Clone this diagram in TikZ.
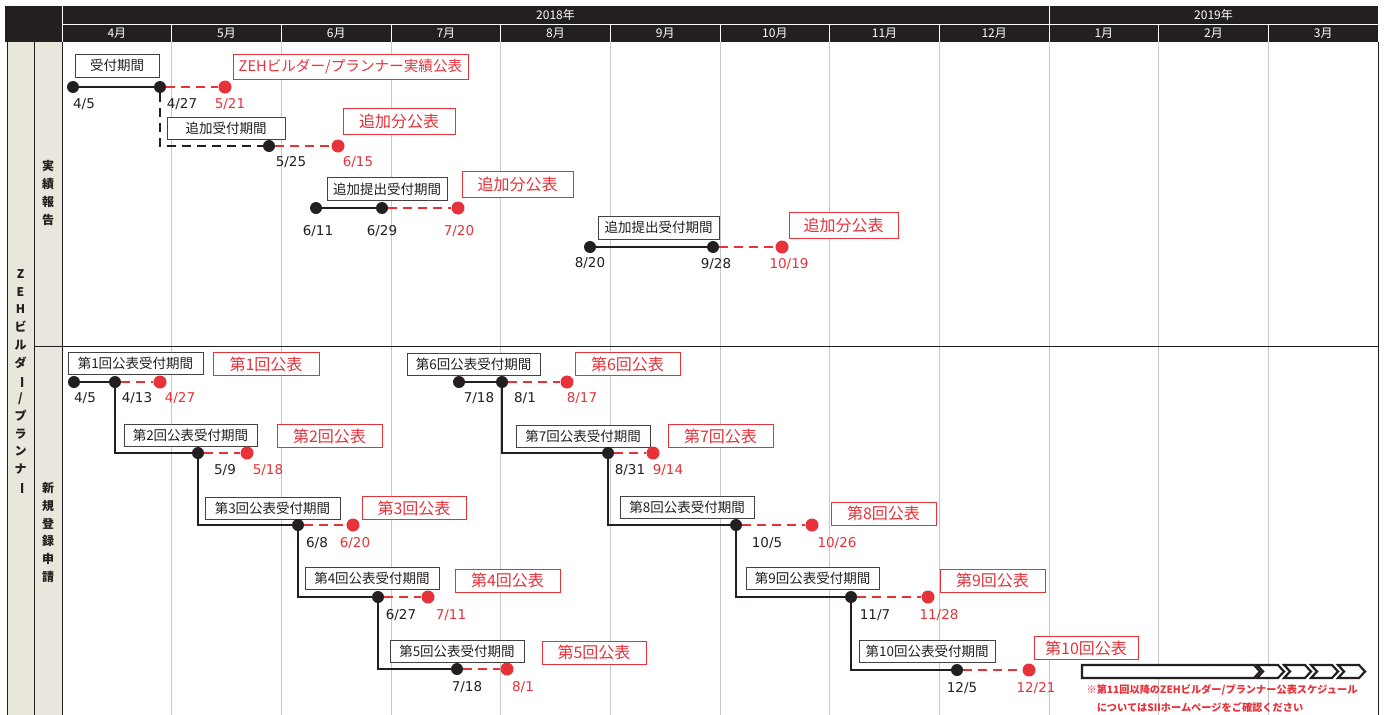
\documentclass[tikz,border=0pt]{standalone}
\usepackage{fontspec}
\usepackage{graphicx}
\newfontfamily\jp{Noto Sans CJK JP}
\newfontfamily\nm{DejaVu Sans}
\definecolor{ink}{HTML}{231F20}
\definecolor{rd}{HTML}{E8323A}
\definecolor{cream}{HTML}{E9E6DB}
\definecolor{gridc}{HTML}{C8C8C8}
\tikzset{
 pbox/.style={draw=ink!85, line width=1pt, fill=white, inner sep=0pt, minimum height=22pt, font=\jp\fontsize{13.5}{15}\selectfont, text=ink},
 rbox/.style={draw=rd, line width=1pt, fill=white, inner sep=0pt, minimum height=23pt, font=\jp\fontsize{16}{18}\selectfont, text=rd},
 bdot/.style={circle, fill=ink, inner sep=0pt, minimum size=12pt},
 rdot/.style={circle, fill=rd, inner sep=0pt, minimum size=13pt},
 bl/.style={font=\nm\fontsize{13.5}{15}\selectfont, text=ink, inner sep=0pt},
 rl/.style={bl, text=rd},
 sline/.style={draw=ink, line width=2.7pt},
 dline/.style={sline, dash pattern=on 9pt off 6pt},
 rline/.style={draw=rd, line width=2.7pt, dash pattern=on 9pt off 6pt},
 hd/.style={font=\jp\fontsize{12}{13}\selectfont, text=white, inner sep=0pt},
 vt/.style={font=\jp\bfseries\fontsize{12}{17.75}\selectfont, align=center, inner sep=0pt, text=ink},
 note/.style={font=\jp\bfseries\fontsize{10.2}{11}\selectfont, text=rd, inner sep=0pt},
 chev/.style={draw=ink, line width=2.2pt, fill=white, line join=miter},
}
\begin{document}
\begin{tikzpicture}[x=1pt,y=-1pt]
\useasboundingbox[fill=white] (0,0) rectangle (1385,715);
% header
\fill[ink] (5,6) rectangle (1378,42);
\draw[white, line width=1pt] (62,6) -- (62,42);
\draw[white, line width=1pt] (62,24) -- (1378,24);
\draw[white, line width=1pt] (1049,6) -- (1049,24);
\foreach \i in {1,...,11} \draw[white, line width=1pt] ({62+109.67*\i},24) -- ({62+109.67*\i},42);
\node[hd] (y2018) at (555.5,15) {2018年};
\node[hd] (y2019) at (1213.5,15) {2019年};
\foreach \m [count=\i from 0] in {4,5,6,7,8,9,10,11,12,1,2,3}
  \node[hd] (mon\i) at ({62+109.67*(\i+0.5)},33) {\m{}月};
% left columns
\fill[cream] (7,42) rectangle (62,715);
\foreach \i in {1,...,11} \draw[gridc, line width=1pt] ({62+109.67*\i},42) -- ({62+109.67*\i},715);
\draw[ink, line width=1pt] (7,42) -- (7,715);
\draw[ink, line width=1pt] (34,42) -- (34,715);
\draw[ink, line width=1pt] (62,42) -- (62,715);
\draw[ink, line width=1pt] (1378,42) -- (1378,715);
\draw[ink, line width=1pt] (34,346) -- (1378,346);
\node[vt] (vzeh) at (20.5,382) {Z\\E\\H\\ビ\\ル\\ダ\\\rotatebox[origin=c]{-90}{ー}\\/\\プ\\ラ\\ン\\ナ\\\rotatebox[origin=c]{-90}{ー}};
\node[vt] (vjis) at (48,193) {実\\績\\報\\告};
\node[vt] (vshin) at (48,532.5) {新\\規\\登\\録\\申\\請};
% ---------- top section ----------
\node[pbox, minimum width=84pt, minimum height=23pt] (ba1) at (117,65.5) {受付期間};
\node[rbox, minimum width=235pt, minimum height=25pt, font=\jp\fontsize{14.6}{18}\selectfont] (ra1) at (350.5,66.5) {ZEHビルダー/プランナー実績公表};
\node[pbox, minimum width=118pt] (ba2) at (226,128) {追加受付期間};
\node[rbox, minimum width=112pt, minimum height=26pt] (ra2) at (399,121) {追加分公表};
\node[pbox, minimum width=120pt, minimum height=23pt] (ba3) at (387,189) {追加提出受付期間};
\node[rbox, minimum width=111pt, minimum height=26pt] (ra3) at (517.5,184) {追加分公表};
\node[pbox, minimum width=121pt, minimum height=23pt] (ba4) at (658.5,227.5) {追加提出受付期間};
\node[rbox, minimum width=109pt, minimum height=26pt] (ra4) at (843.5,225) {追加分公表};
\node[bdot] (a1) at (73,87) {};
\node[bdot] (a2) at (160,87) {};
\node[rdot] (a3) at (225,87) {};
\node[bdot] (a4) at (269,146) {};
\node[rdot] (a5) at (338,146) {};
\node[bdot] (a6) at (316,208) {};
\node[bdot] (a7) at (382,208) {};
\node[rdot] (a8) at (458,208) {};
\node[bdot] (a9) at (590,247) {};
\node[bdot] (a10) at (713,247) {};
\node[rdot] (a11) at (782,247) {};
\draw[sline] (a1) -- (a2);
\draw[rline] (a2) -- (a3);
\draw[dline] (a2) |- (a4);
\draw[rline] (a4) -- (a5);
\draw[sline] (a6) -- (a7);
\draw[rline] (a7) -- (a8);
\draw[sline] (a9) -- (a10);
\draw[rline] (a10) -- (a11);
\node[bl] (la1) at (84,104) {4/5};
\node[bl] (la2) at (182,104) {4/27};
\node[rl] (la3) at (230,104) {5/21};
\node[bl] (la4) at (291,162) {5/25};
\node[rl] (la5) at (358,162) {6/15};
\node[bl] (la6) at (318,231) {6/11};
\node[bl] (la7) at (382,231) {6/29};
\node[rl] (la8) at (459,231) {7/20};
\node[bl] (la9) at (590,263) {8/20};
\node[bl] (la10) at (716,264) {9/28};
\node[rl] (la11) at (789,264) {10/19};
% ---------- bottom section ----------
\node[pbox, minimum width=135pt] (b1) at (135.5,363.5) {第1回公表受付期間};
\node[rbox, minimum width=106pt] (r1) at (266,364) {第1回公表};
\node[pbox, minimum width=133pt] (b2) at (190.5,435.5) {第2回公表受付期間};
\node[rbox, minimum width=105pt] (r2) at (329.5,436) {第2回公表};
\node[pbox, minimum width=135pt] (b3) at (272.5,508) {第3回公表受付期間};
\node[rbox, minimum width=104pt] (r3) at (414,508) {第3回公表};
\node[pbox, minimum width=134pt] (b4) at (372,578.5) {第4回公表受付期間};
\node[rbox, minimum width=105pt] (r4) at (507.5,580.5) {第4回公表};
\node[pbox, minimum width=134pt] (b5) at (457,651) {第5回公表受付期間};
\node[rbox, minimum width=104pt] (r5) at (594,652.5) {第5回公表};
\node[pbox, minimum width=133pt] (b6) at (473.5,364) {第6回公表受付期間};
\node[rbox, minimum width=105pt] (r6) at (627.5,364) {第6回公表};
\node[pbox, minimum width=134pt] (b7) at (583,436) {第7回公表受付期間};
\node[rbox, minimum width=105pt] (r7) at (720.5,436) {第7回公表};
\node[pbox, minimum width=134pt] (b8) at (687,507) {第8回公表受付期間};
\node[rbox, minimum width=105pt] (r8) at (883.5,513.5) {第8回公表};
\node[pbox, minimum width=133pt] (b9) at (812.5,578) {第9回公表受付期間};
\node[rbox, minimum width=105pt] (r9) at (992.5,580.5) {第9回公表};
\node[pbox, minimum width=136pt] (b10) at (927,651) {第10回公表受付期間};
\node[rbox, minimum width=104pt] (r10) at (1086,648) {第10回公表};
% dots
\node[bdot] (k0) at (74,382) {};
\node[bdot] (k1) at (115,382) {};
\node[rdot] (p1) at (160,382) {};
\node[bdot] (k2) at (198,453) {};
\node[rdot] (p2) at (247,453) {};
\node[bdot] (k3) at (298,525) {};
\node[rdot] (p3) at (353,525) {};
\node[bdot] (k4) at (378,597) {};
\node[rdot] (p4) at (428,597) {};
\node[bdot] (k5) at (457,669) {};
\node[rdot] (p5) at (507,669) {};
\node[bdot] (j0) at (459,382) {};
\node[bdot] (k6) at (502,382) {};
\node[rdot] (p6) at (567,382) {};
\node[bdot] (k7) at (608,453) {};
\node[rdot] (p7) at (653,453) {};
\node[bdot] (k8) at (736,525) {};
\node[rdot] (p8) at (812,525) {};
\node[bdot] (k9) at (851,597) {};
\node[rdot] (p9) at (928,597) {};
\node[bdot] (k10) at (957,670) {};
\node[rdot] (p10) at (1029,670) {};
% connectors
\draw[sline] (k0) -- (k1);
\draw[rline] (k1) -- (p1);
\draw[sline] (k1) |- (k2);
\draw[rline] (k2) -- (p2);
\draw[sline] (k2) |- (k3);
\draw[rline] (k3) -- (p3);
\draw[sline] (k3) |- (k4);
\draw[rline] (k4) -- (p4);
\draw[sline] (k4) |- (k5);
\draw[rline] (k5) -- (p5);
\draw[sline] (j0) -- (k6);
\draw[rline] (k6) -- (p6);
\draw[sline] (k6) |- (k7);
\draw[rline] (k7) -- (p7);
\draw[sline] (k7) |- (k8);
\draw[rline] (k8) -- (p8);
\draw[sline] (k8) |- (k9);
\draw[rline] (k9) -- (p9);
\draw[sline] (k9) |- (k10);
\draw[rline] (k10) -- (p10);
% labels
\node[bl] (lk0) at (85,398) {4/5};
\node[bl] (lk1) at (137,398) {4/13};
\node[rl] (lp1) at (180,398) {4/27};
\node[bl] (lk2) at (225,470) {5/9};
\node[rl] (lp2) at (268,470) {5/18};
\node[bl] (lk3) at (317,543) {6/8};
\node[rl] (lp3) at (355,543) {6/20};
\node[bl] (lk4) at (401,615) {6/27};
\node[rl] (lp4) at (451,615) {7/11};
\node[bl] (lk5) at (467,687) {7/18};
\node[rl] (lp5) at (523,687) {8/1};
\node[bl] (lj0) at (479,398) {7/18};
\node[bl] (lk6) at (525,398) {8/1};
\node[rl] (lp6) at (582,398) {8/17};
\node[bl] (lk7) at (630,470) {8/31};
\node[rl] (lp7) at (668,470) {9/14};
\node[bl] (lk8) at (767,543) {10/5};
\node[rl] (lp8) at (837,543) {10/26};
\node[bl] (lk9) at (875,615) {11/7};
\node[rl] (lp9) at (939,615) {11/28};
\node[bl] (lk10) at (962,688) {12/5};
\node[rl] (lp10) at (1036,688) {12/21};
% future arrow
\draw[chev] (1082,665) -- (1254,665) -- (1260,671.5) -- (1254,678) -- (1082,678) -- cycle;
\foreach \x in {1257,1284,1311,1338}
  \draw[chev] (\x,665) -- (\x+21,665) -- (\x+27,671.5) -- (\x+21,678) -- (\x,678) -- (\x+6,671.5) -- cycle;
\node[note] (n1) at (1222,690) {※第11回以降のZEHビルダー/プランナー公表スケジュール};
\node[note] (n2) at (1200,708) {についてはSIIホームページをご確認ください};
\end{tikzpicture}
\end{document}
